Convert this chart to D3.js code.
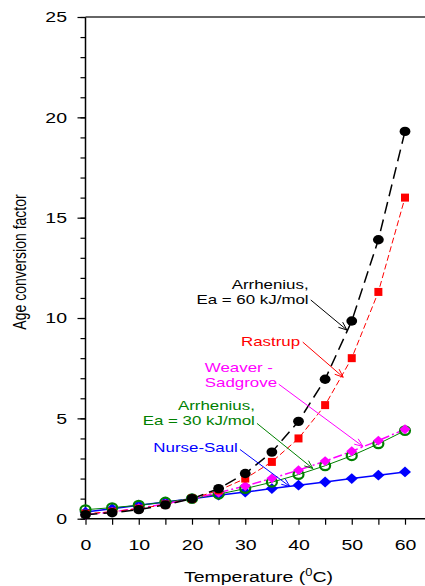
<!DOCTYPE html>
<html>
<head>
<meta charset="utf-8">
<script src="https://cdn.jsdelivr.net/npm/d3@7"></script>
<style>
  html, body { margin: 0; padding: 0; background: #fff; }
  svg { display: block; font-family: "Liberation Sans", Arial, sans-serif; }
</style>
</head>
<body>
<svg id="chart" width="425" height="586"></svg>
<script>
// Temperature (°C) at which every age conversion factor is evaluated
const temperatures = [0, 5, 10, 15, 20, 25, 30, 35, 40, 45, 50, 55, 60];

// Age conversion factors, reference temperature 20 °C
const arrhenius60 = [0.20, 0.30, 0.45, 0.69, 1.00, 1.50, 2.25, 3.32, 4.85, 6.95, 9.85, 13.9, 19.3];
const rastrup = [0.25, 0.35, 0.50, 0.71, 1.00, 1.41, 2.00, 2.83, 4.00, 5.66, 8.00, 11.3, 16.0];
const weaverSadgrove = [0.20, 0.34, 0.52, 0.74, 1.00, 1.30, 1.63, 2.01, 2.42, 2.87, 3.36, 3.89, 4.46];
const arrhenius30 = [0.45, 0.55, 0.67, 0.83, 1.00, 1.22, 1.50, 1.82, 2.20, 2.64, 3.14, 3.73, 4.39];
const nurseSaul = [0.33, 0.50, 0.67, 0.83, 1.00, 1.17, 1.33, 1.50, 1.67, 1.83, 2.00, 2.17, 2.33];

const xTicks = [0, 10, 20, 30, 40, 50, 60];
const yTicks = [0, 5, 10, 15, 20, 25];

const svg = d3.select("#chart");
const W = 425;
const WIDE = 1.3; // horizontal widening applied to the lettering

const x = d3.scaleLinear().domain([0, 60]).range([85.5, 405]);
const y = d3.scaleLinear().domain([0, 25]).range([518.7, 17]);

// ---- axes ----
const xAxis = d3.axisBottom(x)
  .tickValues(d3.range(0, 61, 5))
  .tickSize(6)
  .tickFormat(d => xTicks.includes(d) ? d : "");
const gx = svg.append("g").attr("transform", `translate(0,${y(0)})`).call(xAxis);
gx.select(".domain").remove();
gx.selectAll(".tick line").attr("stroke", "#000").attr("stroke-width", 1.2);
gx.selectAll(".tick text")
  .attr("font-size", 15).attr("font-family", "Liberation Sans, Arial, sans-serif")
  .attr("fill", "#000").attr("y", 31.3).attr("dy", 0)
  .attr("transform", `scale(${WIDE},1)`);

const yMinor = d3.axisLeft(y).tickValues(d3.range(0, 26, 1)).tickSize(5).tickFormat("");
const gym = svg.append("g").attr("transform", `translate(${x(0)},0)`).call(yMinor);
gym.select(".domain").remove();
gym.selectAll(".tick line").attr("stroke", "#000").attr("stroke-width", 1.2);

const yAxis = d3.axisLeft(y).tickValues(yTicks).tickSize(8);
const gy = svg.append("g").attr("transform", `translate(${x(0)},0)`).call(yAxis);
gy.select(".domain").remove();
gy.selectAll(".tick line").attr("stroke", "#000").attr("stroke-width", 1.2);
gy.selectAll(".tick text")
  .attr("font-size", 15).attr("font-family", "Liberation Sans, Arial, sans-serif")
  .attr("fill", "#000").attr("x", -18.5 / WIDE)
  .attr("transform", `scale(${WIDE},1)`);

// frame: left spine, bottom and top lines running to the page edge
svg.append("line").attr("x1", x(0)).attr("x2", x(0)).attr("y1", y(25)).attr("y2", y(0))
  .attr("stroke", "#000").attr("stroke-width", 1.5);
svg.append("line").attr("x1", x(0)).attr("x2", W).attr("y1", y(0)).attr("y2", y(0))
  .attr("stroke", "#000").attr("stroke-width", 1.5);
svg.append("line").attr("x1", x(0)).attr("x2", W).attr("y1", y(25)).attr("y2", y(25))
  .attr("stroke", "#333").attr("stroke-width", 1.5);

// axis titles
svg.append("text")
  .attr("transform", `translate(26,262) scale(${WIDE},1) rotate(-90)`)
  .attr("text-anchor", "middle").attr("font-size", 14).attr("fill", "#000")
  .text("Age conversion factor");

const xt = svg.append("text")
  .attr("transform", `translate(258.5,582) scale(${WIDE},1)`)
  .attr("text-anchor", "middle").attr("font-size", 15).attr("fill", "#000");
xt.append("tspan").text("Temperature (");
xt.append("tspan").attr("font-size", 10).attr("dy", -6).text("0");
xt.append("tspan").attr("dy", 6).text("C)");

// ---- series ----
const series = [
  { name: "Nurse-Saul", values: nurseSaul, color: "#0000ff", dash: null, width: 1.5, marker: "diamond", fill: true, size: 6 },
  { name: "Arrhenius30", values: arrhenius30, color: "#008000", dash: null, width: 1, marker: "circle", fill: false, size: 5 },
  { name: "Weaver-Sadgrove", values: weaverSadgrove, color: "#ff00ff", dash: "9,3,2,3", width: 1.5, marker: "diamond", fill: true, size: 5.5 },
  { name: "Rastrup", values: rastrup, color: "#ff0000", dash: "6,3", width: 1, marker: "square", fill: true, size: 4 },
  { name: "Arrhenius60", values: arrhenius60, color: "#000000", dash: "12,6", width: 1.5, marker: "circle", fill: true, size: 5.4 }
];

const line = d3.line().x((d, i) => x(temperatures[i])).y(d => y(d));

series.forEach(s => {
  svg.append("path").datum(s.values)
    .attr("d", line).attr("fill", "none")
    .attr("stroke", s.color).attr("stroke-width", s.width)
    .attr("stroke-dasharray", s.dash);
});

series.forEach(s => {
  const g = svg.append("g");
  s.values.forEach((v, i) => {
    const cx = x(temperatures[i]), cy = y(v), r = s.size;
    let m;
    if (s.marker === "circle") {
      m = g.append("ellipse").attr("cx", cx).attr("cy", cy).attr("rx", r).attr("ry", r * 0.87);
    } else if (s.marker === "square") {
      m = g.append("rect").attr("x", cx - r).attr("y", cy - r).attr("width", 2 * r).attr("height", 2 * r);
    } else {
      m = g.append("path").attr("d", `M${cx},${cy - r * 0.9}L${cx + r},${cy}L${cx},${cy + r * 0.9}L${cx - r},${cy}Z`);
    }
    if (s.fill) m.attr("fill", s.color).attr("stroke", "none");
    else m.attr("fill", "none").attr("stroke", s.color).attr("stroke-width", 2.2);
  });
});

// ---- callout labels with arrows (positions in data units) ----
const labels = [
  { lines: ["Arrhenius,", "Ea = 60 kJ/mol"], color: "#000", anchor: "end", tx: 41.9, ty: 11.45, from: [42.3, 10.9], to: [49.1, 9.4] },
  { lines: ["Rastrup"], color: "#ff0000", anchor: "end", tx: 40.3, ty: 8.6, from: [40.8, 8.8], to: [48.4, 7.05] },
  { lines: ["Weaver -", "Sadgrove"], color: "#ff00ff", anchor: "start", tx: 22.4, ty: 7.3, from: [36.3, 6.7], to: [52.1, 3.6] },
  { lines: ["Arrhenius,", "Ea = 30 kJ/mol"], color: "#008000", anchor: "end", tx: 31.8, ty: 5.42, from: [32.2, 4.75], to: [42.7, 2.5] },
  { lines: ["Nurse-Saul"], color: "#0000ff", anchor: "end", tx: 28.6, ty: 3.32, from: [29.0, 3.45], to: [38.4, 1.6] }
];

labels.forEach(l => {
  const t = svg.append("text")
    .attr("transform", `translate(${x(l.tx)},${y(l.ty)}) scale(${WIDE},1)`)
    .attr("text-anchor", l.anchor).attr("font-size", 13).attr("fill", l.color);
  l.lines.forEach((s, i) => {
    t.append("tspan").attr("x", 0).attr("dy", i === 0 ? 0 : 15).text(s);
  });

  const x1 = x(l.from[0]), y1 = y(l.from[1]), x2 = x(l.to[0]), y2 = y(l.to[1]);
  svg.append("line").attr("x1", x1).attr("y1", y1).attr("x2", x2).attr("y2", y2)
    .attr("stroke", l.color).attr("stroke-width", 1);
  const ang = Math.atan2(y2 - y1, x2 - x1), h = 9, spread = 0.38;
  const p = a => [x2 - h * Math.cos(a), y2 - h * Math.sin(a)];
  const [ax, ay] = p(ang + spread), [bx, by] = p(ang - spread);
  svg.append("path").attr("d", `M${ax},${ay}L${x2},${y2}L${bx},${by}`)
    .attr("fill", "none").attr("stroke", l.color).attr("stroke-width", 1);
});
</script>
</body>
</html>
